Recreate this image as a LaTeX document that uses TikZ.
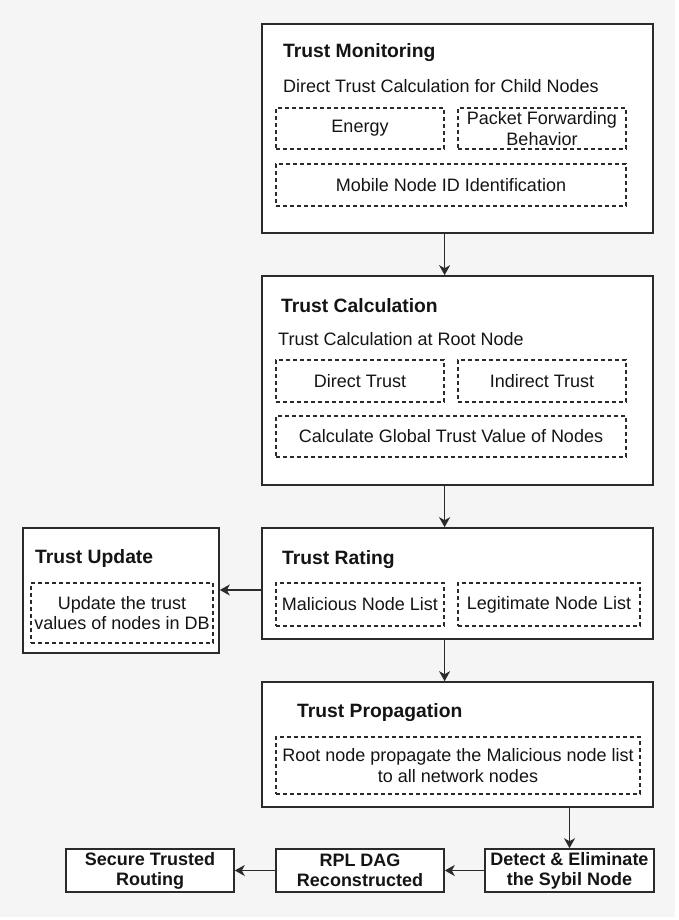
\documentclass[tikz,border=0pt]{standalone}
\usepackage{fontspec}
\setmainfont{Liberation Sans}
\usetikzlibrary{arrows.meta}
\definecolor{bggray}{HTML}{F5F5F5}
\definecolor{linegray}{HTML}{2B2B2B}
\definecolor{textblack}{HTML}{141414}
\begin{document}
\begin{tikzpicture}[x=1pt, y=-1pt,
    font=\fontsize{18}{20.5}\selectfont, text=textblack,
    box/.style={draw=linegray, line width=1.6pt, fill=white, inner sep=0pt, minimum width=391pt},
    dashbox/.style={draw=linegray, line width=1.2pt, dash pattern=on 4pt off 3pt, inner sep=0pt, align=center},
    head/.style={anchor=base west, inner sep=0pt, font=\fontsize{19.3}{22}\selectfont\bfseries},
    sub/.style={anchor=base west, inner sep=0pt},
    endbox/.style={draw=linegray, line width=1.6pt, fill=white, inner sep=0pt, minimum width=168pt, minimum height=43pt, align=center, font=\fontsize{18}{20}\selectfont\bfseries},
    arr/.style={draw=linegray, line width=1.6pt, -{Stealth[length=10pt, width=11pt, inset=3pt]}}]
  \useasboundingbox (0,0) rectangle (679,920);
  \fill[white] (0,0) rectangle (679,920);
  \fill[bggray] (0,0) rectangle (675,917);

  \node[box, minimum height=209pt] (mon) at (457.5,128.5) {};
  \node[head] (monT) at (283,58) {Trust Monitoring};
  \node[sub] (monS) at (283,93) {Direct Trust Calculation for Child Nodes};
  \node[dashbox, minimum width=168pt, minimum height=41pt] (ener) at (360,128.5) {Energy};
  \node[dashbox, minimum width=168pt, minimum height=41pt] (pkt) at (542,128.5) {Packet Forwarding\\Behavior};
  \node[dashbox, minimum width=350pt, minimum height=42pt] (mob) at (451,185) {Mobile Node ID Identification};

  \node[box, minimum height=209pt] (calc) at (457.5,380.5) {};
  \node[head] (calcT) at (281,312) {Trust Calculation};
  \node[sub] (calcS) at (278,345) {Trust Calculation at Root Node};
  \node[dashbox, minimum width=168pt, minimum height=42pt] (dir) at (360,381) {Direct Trust};
  \node[dashbox, minimum width=168pt, minimum height=42pt] (ind) at (542,381) {Indirect Trust};
  \node[dashbox, minimum width=350pt, minimum height=41pt] (glob) at (451,436.5) {Calculate Global Trust Value of Nodes};

  \node[box, minimum height=111pt] (rate) at (457.5,583.5) {};
  \node[head] (rateT) at (282,564) {Trust Rating};
  \node[dashbox, minimum width=168pt, minimum height=43pt] (mal) at (360,604.5) {Malicious Node List};
  \node[dashbox, minimum width=182pt, minimum height=43pt] (legit) at (549,604.5) {Legitimate Node List};

  \node[box, minimum width=196pt, minimum height=125pt] (upd) at (121,590.5) {};
  \node[head] (updT) at (35,563) {Trust Update};
  \node[dashbox, minimum width=182pt, minimum height=60pt] (updD) at (122,613) {Update the trust\\values of nodes in DB};

  \node[box, minimum height=125pt] (prop) at (457.5,744.5) {};
  \node[head] (propT) at (297,717) {Trust Propagation};
  \node[dashbox, minimum width=364pt, minimum height=57pt] (propD) at (458,765.5) {Root node propagate the Malicious node list\\to all network nodes};

  \node[endbox] (sec) at (150,870.5) {Secure Trusted\\Routing};
  \node[endbox] (rpl) at (360,870.5) {RPL DAG\\Reconstructed};
  \node[endbox, minimum width=169pt] (det) at (569.5,870.5) {Detect \& Eliminate\\the Sybil Node};

  \draw[arr] (mon.south -| ener.east) -- (calc.north -| ener.east);
  \draw[arr] (calc.south -| dir.east) -- (rate.north -| dir.east);
  \draw[arr] (rate.south -| mal.east) -- (prop.north -| mal.east);
  \draw[arr] ([yshift=-6.5pt]rate.west) -- ([yshift=-6.5pt]rate.west -| upd.east);
  \draw[arr] (prop.south -| det.north) -- (det.north);
  \draw[arr] (det.west) -- (rpl.east);
  \draw[arr] (rpl.west) -- (sec.east);
\end{tikzpicture}
\end{document}
